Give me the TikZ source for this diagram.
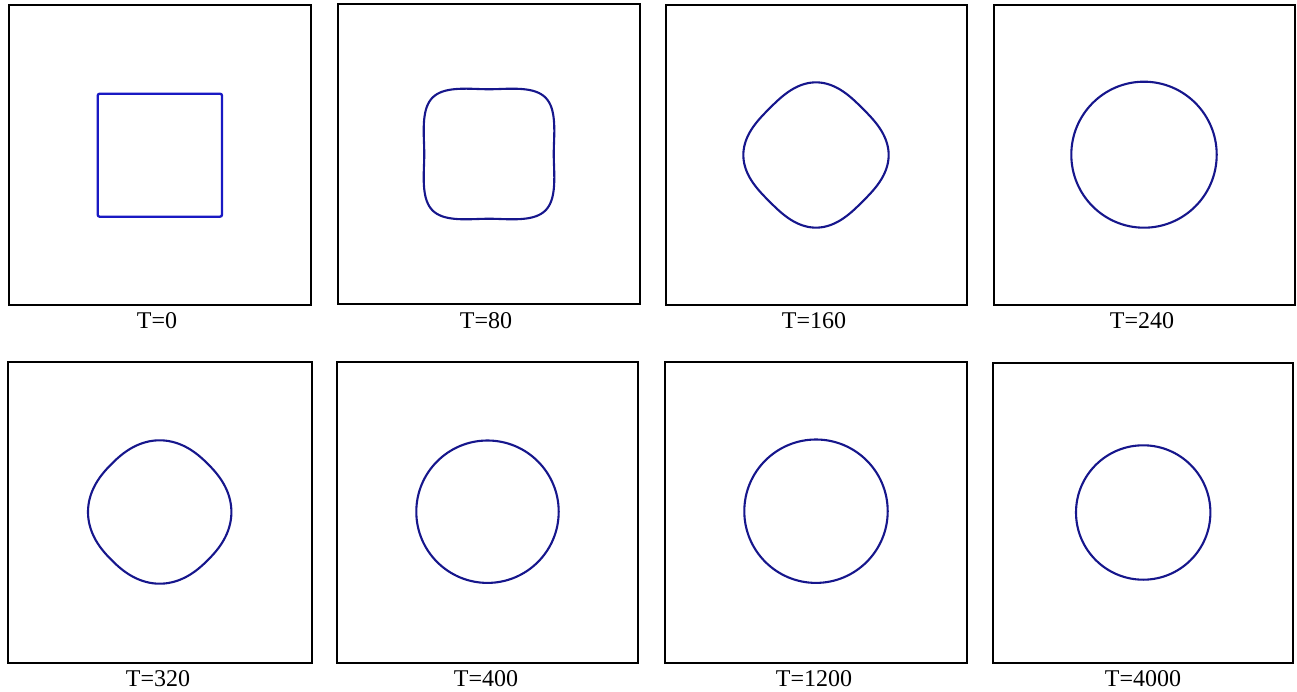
\documentclass[tikz,border=0pt]{standalone}
\usepackage{fontspec}
\setmainfont{Liberation Serif}
\definecolor{navy}{RGB}{22,22,140}
\definecolor{sqblue}{RGB}{25,25,195}
\begin{document}
\begin{tikzpicture}[x=1pt,y=-1pt,
  declare function={sqr(\t,\n)=pow(pow(abs(cos(\t)),\n)+pow(abs(sin(\t)),\n),-1/\n);},
  frame/.style={draw=black,line width=2pt},
  curve/.style={draw=navy,line width=2.1pt,line join=round},
  lbl/.style={anchor=base,inner sep=0pt,font=\fontsize{24}{28}\selectfont}]
\useasboundingbox[fill=white] (0,0) rectangle (1297,692);
% frames
\draw[frame] (8.7,5.3) rectangle (311,305);
\draw[frame] (338,4) rectangle (640.3,304.3);
\draw[frame] (665.7,5.3) rectangle (967,305.3);
\draw[frame] (993.7,5.3) rectangle (1295,305);
\draw[frame] (8,362.3) rectangle (311.7,662.7);
\draw[frame] (337,362.3) rectangle (638.3,662.7);
\draw[frame] (665.3,362) rectangle (967,662.7);
\draw[frame] (992.7,363) rectangle (1293.3,662.7);
% T=0 square
\draw[draw=sqblue,line width=2.3pt,rounded corners=2pt] (97.7,93.7) rectangle (222,216.7);
% T=80 rounded square with slightly concave sides
\begin{scope}[shift={(489,154)}]
\draw[curve] plot[domain=0.5:360.5,samples=241]
  (\x:{65.6*sqr(\x,4.6)*(1-0.013*pow((1+cos(4*\x))/2,3))}) -- cycle;
\end{scope}
% T=160 rounded diamond
\begin{scope}[shift={(816,155)}]
\draw[curve] plot[domain=0.5:360.5,samples=241]
  (\x:{65.8*sqr(\x-45,2.8)}) -- cycle;
\end{scope}
% T=240 circle
\draw[curve] (1144,154.7) ellipse[x radius=72.7,y radius=73];
% T=320 rounded diamond
\begin{scope}[shift={(159.7,512)}]
\draw[curve] plot[domain=0.5:360.5,samples=241]
  (\x:{68*sqr(\x-45,2.36)}) -- cycle;
\end{scope}
% circles
\draw[curve] (487.5,511.7) circle[radius=71.2];
\draw[curve] (816,511.2) circle[radius=71.7];
\draw[curve] (1143.2,512.5) circle[radius=67.2];
% labels
\node[lbl] (l1) at (157,328.5) {T=0};
\node[lbl] (l2) at (486,328.5) {T=80};
\node[lbl] (l3) at (814,328.5) {T=160};
\node[lbl] (l4) at (1142,328.5) {T=240};
\node[lbl] (l5) at (158,686.5) {T=320};
\node[lbl] (l6) at (486,686.5) {T=400};
\node[lbl] (l7) at (814,686.5) {T=1200};
\node[lbl] (l8) at (1143,686.5) {T=4000};
\end{tikzpicture}
\end{document}
